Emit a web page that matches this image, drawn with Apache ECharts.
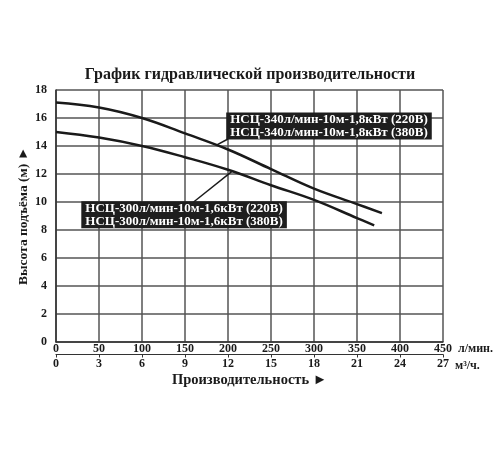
<!DOCTYPE html>
<html>
<head>
<meta charset="utf-8">
<script src="https://cdn.jsdelivr.net/npm/echarts@6/dist/echarts.min.js"></script>
<style>
  html, body { margin: 0; padding: 0; background: #fff; }
  #chart { width: 500px; height: 450px; }
</style>
</head>
<body>
<div id="chart"></div>
<script>
  // кривые насосов: расход (л/мин) и напор (м)
  const flow340 = [0, 50, 100, 150, 200, 250, 300, 350, 379]
  const head340 = [17.1, 16.75, 16.0, 14.9, 13.75, 12.35, 10.95, 9.85, 9.2]
  const flow300 = [0, 50, 100, 150, 200, 250, 300, 350, 370]
  const head300 = [15.0, 14.6, 14.0, 13.2, 12.3, 11.2, 10.15, 8.85, 8.33]

  const label340 = 'НСЦ-340л/мин-10м-1,8кВт (220В)\nНСЦ-340л/мин-10м-1,8кВт (380В)'
  const label300 = 'НСЦ-300л/мин-10м-1,6кВт (220В)\nНСЦ-300л/мин-10м-1,6кВт (380В)'

  const font = 'Liberation Serif'
  const ink = '#1a1a1a'

  const pairs = (xs, ys) => xs.map((x, i) => [x, ys[i]])

  const boxLabel = {
    show: true,
    position: [0, 0],
    align: 'left',
    verticalAlign: 'top',
    color: '#fff',
    backgroundColor: '#1e1e1e',
    fontFamily: font,
    fontWeight: 'bold',
    fontSize: 13,
    lineHeight: 13,
    padding: [1, 4, 0, 4]
  }

  const myChart = echarts.init(document.getElementById('chart'))
  const option = {
    animation: false,
    title: {
      text: 'График гидравлической производительности',
      left: 'center',
      top: 62,
      textStyle: { fontFamily: font, fontWeight: 'bold', fontSize: 16, color: ink }
    },
    grid: { left: 56, top: 90, right: 57, bottom: 108 },
    xAxis: [
      {
        type: 'value', min: 0, max: 450, interval: 50, position: 'bottom',
        axisLine: { lineStyle: { color: '#333', width: 1.5 } },
        axisTick: { show: false },
        axisLabel: { margin: 1, color: ink, fontFamily: font, fontWeight: 'bold', fontSize: 12 },
        splitLine: { show: true, lineStyle: { color: '#555', width: 1.5 } },
        name: 'л/мин.', nameLocation: 'end', nameGap: 12,
        nameTextStyle: { color: ink, fontFamily: font, fontWeight: 'bold', fontSize: 12, verticalAlign: 'top', padding: [1, 0, 0, 0] }
      },
      {
        type: 'value', min: 0, max: 27, interval: 3, position: 'bottom', offset: 12.5,
        axisLine: { show: true, lineStyle: { color: '#333', width: 1.2 } },
        axisTick: { show: true, length: 3, lineStyle: { color: '#333' } },
        axisLabel: { margin: 3, color: ink, fontFamily: font, fontWeight: 'bold', fontSize: 12 },
        splitLine: { show: false },
        name: 'м³/ч.', nameLocation: 'end', nameGap: 12,
        nameTextStyle: { color: ink, fontFamily: font, fontWeight: 'bold', fontSize: 12, verticalAlign: 'top', padding: [5, 0, 0, 0] }
      },
      {
        type: 'value', min: 0, max: 27, position: 'bottom', offset: 12.5,
        axisLine: { show: false },
        axisTick: { show: false },
        axisLabel: { show: false },
        splitLine: { show: false },
        name: 'Производительность ►', nameLocation: 'middle', nameGap: 18,
        nameTextStyle: { color: ink, fontFamily: font, fontWeight: 'bold', fontSize: 14.5 }
      }
    ],
    yAxis: {
      type: 'value', min: 0, max: 18, interval: 2,
      axisLine: { show: true, lineStyle: { color: '#333', width: 1.5 } },
      axisTick: { show: false },
      axisLabel: { margin: 9, color: ink, fontFamily: font, fontWeight: 'bold', fontSize: 12 },
      splitLine: { show: true, lineStyle: { color: '#555', width: 1.5 } },
      name: 'Высота подъёма (м) ►', nameLocation: 'middle', nameGap: 25, nameMoveOverlap: false,
      nameTextStyle: { color: ink, fontFamily: font, fontWeight: 'bold', fontSize: 13.5 }
    },
    series: [
      {
        name: 'НСЦ-340', type: 'line', smooth: 0.4, showSymbol: false,
        lineStyle: { color: ink, width: 2.5 },
        data: pairs(flow340, head340),
        markLine: {
          silent: true, symbol: ['none', 'none'], label: { show: false },
          lineStyle: { color: ink, width: 1.5, type: 'solid' },
          data: [[{ coord: [200, 14.5] }, { coord: [186, 14.05] }]]
        },
        markPoint: {
          silent: true, symbol: 'rect', symbolSize: 1, itemStyle: { color: 'rgba(0,0,0,0)' },
          label: boxLabel,
          data: [{ coord: [198.5, 16.36], value: label340 }]
        }
      },
      {
        name: 'НСЦ-300', type: 'line', smooth: 0.4, showSymbol: false,
        lineStyle: { color: ink, width: 2.5 },
        data: pairs(flow300, head300),
        markLine: {
          silent: true, symbol: ['none', 'none'], label: { show: false },
          lineStyle: { color: ink, width: 1.5, type: 'solid' },
          data: [[{ coord: [160, 10.0] }, { coord: [205, 12.2] }]]
        },
        markPoint: {
          silent: true, symbol: 'rect', symbolSize: 1, itemStyle: { color: 'rgba(0,0,0,0)' },
          label: boxLabel,
          data: [{ coord: [30, 10.02], value: label300 }]
        }
      }
    ]
  }

  myChart.setOption(option)
  window.addEventListener('resize', function () {
    myChart.resize()
  })
</script>
</body>
</html>
